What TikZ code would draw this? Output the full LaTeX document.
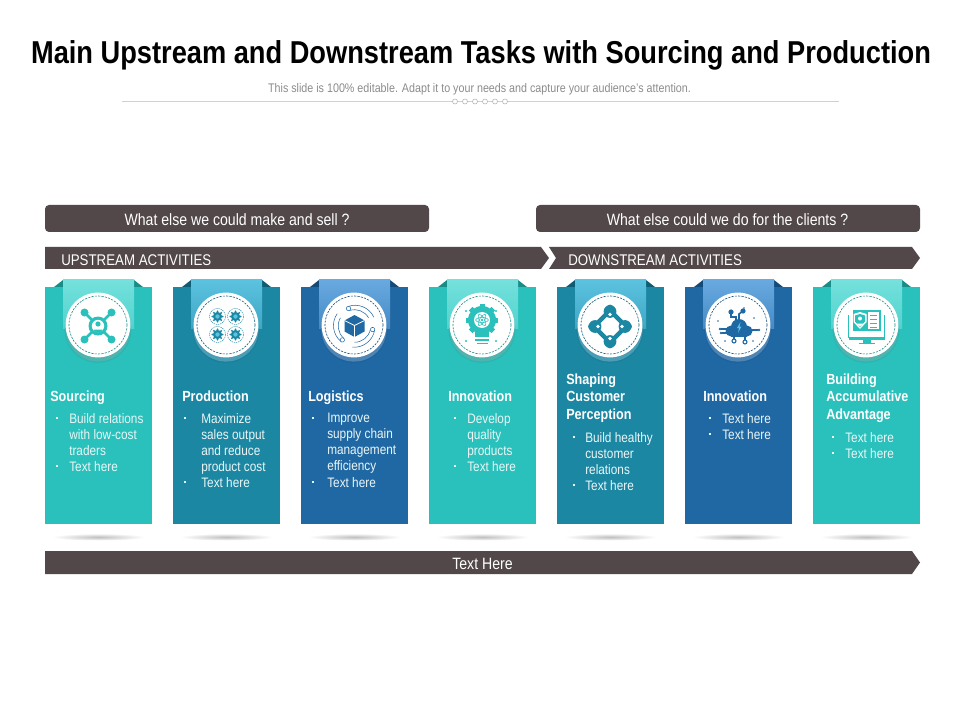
\documentclass[tikz,border=0pt]{standalone}
\usepackage{fontspec}
\setmainfont{Liberation Sans}[FakeStretch=0.86]
\usetikzlibrary{shapes.geometric}
\definecolor{barc}{HTML}{524849}
\definecolor{tealc}{HTML}{2AC1BC}\definecolor{tealr}{HTML}{74E1DC}\definecolor{teald}{HTML}{1A8C88}\definecolor{tealh}{HTML}{4FB3AF}
\definecolor{seac}{HTML}{1C87A3}\definecolor{sear}{HTML}{5BC2E0}\definecolor{sead}{HTML}{0F5D75}\definecolor{seah}{HTML}{4A9DB5}
\definecolor{bluec}{HTML}{2068A4}\definecolor{bluer}{HTML}{68A9E0}\definecolor{blued}{HTML}{134A78}\definecolor{blueh}{HTML}{4F85B5}
\definecolor{txtc}{HTML}{EAF6F6}
\tikzset{
  x=0.75pt,y=-0.75pt,
  barlabel/.style={text=white,inner sep=0pt,font=\fontsize{12.3}{14}\selectfont},
  chevlabel/.style={text=white,inner sep=0pt,anchor=west,font=\fontsize{11.6}{14}\selectfont},
  cardhead/.style={text=white,inner sep=0pt,anchor=north west,align=left,font=\fontsize{11}{13}\bfseries\selectfont},
  cardbody/.style={text=txtc,inner sep=0pt,anchor=north west,align=left,font=\fontsize{10.3}{12}\selectfont},
  dashring/.style={draw=#1,line width=0.45pt,dash pattern=on 1.6pt off 0.9pt},
}
% name, x, card, ribbon, dark fold, crescent
\newcommand{\cardshape}[6]{%
  \fill[#3] (#2,287) rectangle (#2+107,524);
  \fill[#5] (#2+18,280) -- (#2+9,287) -- (#2+18,287) -- cycle;
  \fill[#5] (#2+89,280) -- (#2+98,287) -- (#2+89,287) -- cycle;
  \shade[top color=#4,bottom color=#4!55!#3] (#2+18,280) rectangle (#2+89,328);
  \shade[inner color=gray!55,outer color=white,opacity=.9] (#2+53.5,537) ellipse [x radius=46,y radius=3.5];
  \fill[#3!70!black,opacity=.18] (#2+53,329.5) circle [radius=33.4];
  \fill[#6] (#2+53,329) circle [radius=32.6];
  \node[circle,fill=white,minimum size=48.6pt,inner sep=0pt] (#1) at (#2+53,325) {};
  \draw[dashring=#5] (#2+53,325) circle [radius=29];
}
\newcommand{\sq}[2]{\fill[txtc] (#1-1,#2-1) rectangle (#1+1,#2+1);}
\begin{document}
\begin{tikzpicture}
\useasboundingbox (0,0) rectangle (960,720);
\fill[white] (0,0) rectangle (960,720);
% header
\node[inner sep=0pt,font=\fontsize{23.75}{28}\bfseries\selectfont,text=black] (title) at (481,55.5) {Main Upstream and Downstream Tasks with Sourcing and Production};
\node[inner sep=0pt,font=\fontsize{9.35}{11}\selectfont,text=black!45] (sub) at (479.5,89.5) {This slide is 100\% editable. Adapt it to your needs and capture your audience's attention.};
\draw[black!18,line width=.6pt] (122,101.5) -- (839,101.5);
\foreach \k in {455,465,475,485,495,505}{\draw[black!30,fill=white,line width=.4pt] (\k,101.5) circle [radius=2.5];}
% top bars
\fill[barc,rounded corners=3pt] (45,205) rectangle (429,232);
\node[barlabel] (q1) at (237,220) {What else we could make and sell ?};
\fill[barc,rounded corners=3pt] (536,205) rectangle (920,232);
\node[barlabel] (q2) at (727.5,220) {What else could we do for the clients ?};
% chevrons
\fill[barc] (45,247) -- (541,247) -- (549,258) -- (541,269) -- (45,269) -- cycle;
\node[chevlabel] (up) at (61,260.5) {UPSTREAM ACTIVITIES};
\fill[barc] (549,247) -- (912,247) -- (920,258) -- (912,269) -- (549,269) -- (556,258) -- cycle;
\node[chevlabel] (down) at (568,260.5) {DOWNSTREAM ACTIVITIES};
\fill[barc] (45,551) -- (912,551) -- (920,562.5) -- (912,574) -- (45,574) -- cycle;
\node[barlabel] (foot) at (482.5,564) {Text Here};
% cards
\cardshape{c1}{45}{tealc}{tealr}{teald}{tealh}
\cardshape{c2}{173}{seac}{sear}{sead}{seah}
\cardshape{c3}{301}{bluec}{bluer}{blued}{blueh}
\cardshape{c4}{429}{tealc}{tealr}{teald}{tealh}
\cardshape{c5}{557}{seac}{sear}{sead}{seah}
\cardshape{c6}{685}{bluec}{bluer}{blued}{blueh}
\cardshape{c7}{813}{tealc}{tealr}{teald}{tealh}
% card texts
\node[cardhead] (h1) at (50,390.5) {Sourcing};
\sq{57}{418}\node[cardbody] (b1) at (69,413) {Build relations\\with low-cost\\traders};
\sq{57}{466}\node[cardbody] (t1) at (69,461) {Text here};
\node[cardhead] (h2) at (182,390.5) {Production};
\sq{185}{418}\node[cardbody] (b2) at (201,413) {Maximize\\sales output\\and reduce\\product cost};
\sq{185}{482}\node[cardbody] (t2) at (201,477) {Text here};
\node[cardhead] (h3) at (308,390.5) {Logistics};
\sq{313}{418}\node[cardbody] (b3) at (327,413) {Improve\\supply chain\\management\\efficiency};
\sq{313}{482}\node[cardbody] (t3) at (327,477) {Text here};
\node[cardhead] (h4) at (448,390.5) {Innovation};
\sq{455}{418}\node[cardbody] (b4) at (467,413) {Develop\\quality\\products};
\sq{455}{466}\node[cardbody] (t4) at (467,461) {Text here};
\node[cardhead] (h5) at (566,373.5) {Shaping\\[0.2pt]Customer\\[0.2pt]Perception};
\sq{574}{437}\node[cardbody] (b5) at (585,432) {Build healthy\\customer\\relations};
\sq{574}{485}\node[cardbody] (t5) at (585,480) {Text here};
\node[cardhead] (h6) at (703,390.5) {Innovation};
\sq{710}{418}\node[cardbody] (b6) at (722,413) {Text here};
\sq{710}{434}\node[cardbody] (t6) at (722,429) {Text here};
\node[cardhead] (h7) at (826,373.5) {Building\\[0.2pt]Accumulative\\[0.2pt]Advantage};
\sq{833}{437}\node[cardbody] (b7) at (845,432) {Text here};
\sq{833}{453}\node[cardbody] (t7) at (845,448) {Text here};
% icon 1: person network
\begin{scope}[shift={(98,326)},tealc]
  \foreach \a/\b in {-13.5/-13.5,13.5/-13.5,-13.5/13.5,13.5/13.5}{
    \draw[line width=1.9pt] (0,0) -- (\a,\b);
    \fill (\a,\b) circle [radius=4];}
  \fill (0,0) circle [radius=9.5];
  \fill[white] (0,0) circle [radius=6.2];
  \fill (0,-2) circle [radius=2.6];
  \fill (-4.5,3.5) arc (180:0:4.5 and 3) -- cycle;
\end{scope}
% icon 2: four gears
\begin{scope}[shift={(226.5,325.5)},seac]
  \foreach \a/\b in {-9/-9,9/-9,-9/9,9/9}{
    \begin{scope}[shift={(\a,\b)}]
      \draw[line width=.35pt,dash pattern=on 1pt off .6pt] (0,0) circle [radius=8];
      \foreach \t in {0,45,...,315}{\fill (\t:5.2) circle [radius=1];}
      \fill (0,0) circle [radius=4.6];
      \fill[sear] (0,0) circle [radius=2.2];
    \end{scope}}
\end{scope}
% icon 3: cube with ring of arrows
\begin{scope}[shift={(354.5,326)},bluec]
  \foreach \t in {0,120,240}{
    \begin{scope}[rotate=\t]
      \draw[line width=.4pt] (-5,-15.5) arc (252:330:16.2);
      \draw[line width=.4pt] (-6.5,-19.5) arc (250:335:20.7);
      \draw[line width=.4pt,fill=white] (-6,-17.5) circle [radius=2.2];
    \end{scope}}
  \fill[white] (0,0) circle [radius=12];
  \fill (0,-11) -- (10,-5.5) -- (10,5.5) -- (0,11) -- (-10,5.5) -- (-10,-5.5) -- cycle;
  \draw[white,line width=.6pt] (-10,-5.5) -- (0,-.5) -- (10,-5.5) (0,-.5) -- (0,11);
\end{scope}
% icon 4: light bulb
\begin{scope}[shift={(482,326)},tealc]
  \fill (0,-6) circle [radius=14];
  \fill (-7,5) rectangle (7,11);
  \foreach \t in {0,45,...,315}{\begin{scope}[shift={(0,-6)},rotate=\t]\fill (-2.5,-16) rectangle (2.5,-12);\end{scope}}
  \fill[white] (0,-6) circle [radius=8];
  \begin{scope}[shift={(0,-6)}]
    \draw[line width=.4pt] (0,0) ellipse [x radius=6.5,y radius=2.5];
    \draw[line width=.4pt,rotate=60] (0,0) ellipse [x radius=6.5,y radius=2.5];
    \draw[line width=.4pt,rotate=120] (0,0) ellipse [x radius=6.5,y radius=2.5];
    \fill (0,0) circle [radius=1.3];
  \end{scope}
  \fill (-7,13) rectangle (7,15);
  \fill (-5.5,16.5) rectangle (5.5,18);
  \foreach \a/\b in {-16/-15,14/-15,-16/15,14/15}{\fill (\a,\b) circle [radius=1.2];}
\end{scope}
% icon 5: four people in a diamond
\begin{scope}[shift={(610,326.5)},seac]
  \draw[line width=3.4pt,line join=round] (0,-16) -- (16,0) -- (0,16) -- (-16,0) -- cycle;
  \foreach \a/\b in {0/-15,15/0,0/15,-15/0}{
    \fill (\a,\b) circle [radius=6.4];
    \fill[white] (\a*.8,\b*.8) circle [radius=1.8];
    \fill (\a*1.25,\b*1.25) circle [radius=3.2];}
\end{scope}
% icon 6: cloud circuit
\begin{scope}[shift={(739,327)},bluec]
  \fill (-8,4) circle [radius=5.5];
  \fill (0,0) circle [radius=8];
  \fill (8,4) circle [radius=5.5];
  \fill (-8,3) rectangle (8,9.5);
  \fill[sear] (1.5,-5) -- (-2,1) -- (0,1) -- (-1,6) -- (2.5,-.5) -- (.5,-.5) -- cycle;
  \draw[line width=1.2pt] (-3,-5) -- (-3,-10) -- (-8,-10) -- (-8,-15);
  \draw[line width=1.2pt] (0,-6) -- (0,-13) -- (4,-16);
  \draw[line width=1.2pt] (-8,2) -- (-18,2);
  \draw[line width=.8pt] (-8,6) -- (-17,6);
  \draw[line width=.8pt] (-5,8) -- (-5,13);
  \draw[line width=.8pt] (6,8) -- (6,14);
  \draw[line width=.8pt] (12,3) -- (19,3);
  \foreach \a/\b in {-8/-15,4/-16}{\fill (\a,\b) circle [radius=2.6];}
  \foreach \a/\b in {-5/14,6/15}{\draw[line width=.8pt,fill=white] (\a,\b) circle [radius=2];}
  \foreach \a/\b in {-19/2,-18/6,20/3}{\fill (\a,\b) circle [radius=1.4];}
  \foreach \a/\b in {-21/-6,-14/14,15/-9,14/14,5/-19}{\fill (\a,\b) circle [radius=.8];}
\end{scope}
% icon 7: monitor with shield
\begin{scope}[shift={(866.5,325)},tealc]
  \draw[line width=.6pt] (-18,-10) -- (-18,12) -- (18,12) -- (18,-10);
  \fill (-18,12) rectangle (18,15);
  \fill (-14,-15) rectangle (14,6);
  \fill (-4,15) rectangle (4,18);
  \fill (-8,18) rectangle (8,19);
  \fill[white] (1,-13) rectangle (12,4);
  \foreach \k in {-10,-6,-2,2}{\fill (3,\k) rectangle (10.5,\k+1.4);}
  \fill[white] (-6.5,-13) -- (0,-11) -- (0,-3) -- (-6.5,4) -- (-13,-3) -- (-13,-11) -- cycle;
  \fill (-6.5,-11) -- (-1.5,-9.5) -- (-1.5,-3.5) -- (-6.5,2) -- (-11.5,-3.5) -- (-11.5,-9.5) -- cycle;
  \fill[white] (-6.5,-6.5) circle [radius=2];
  \fill[white] (-9.5,-1.5) arc (180:0:3 and 2.5) -- cycle;
\end{scope}
\end{tikzpicture}
\end{document}
